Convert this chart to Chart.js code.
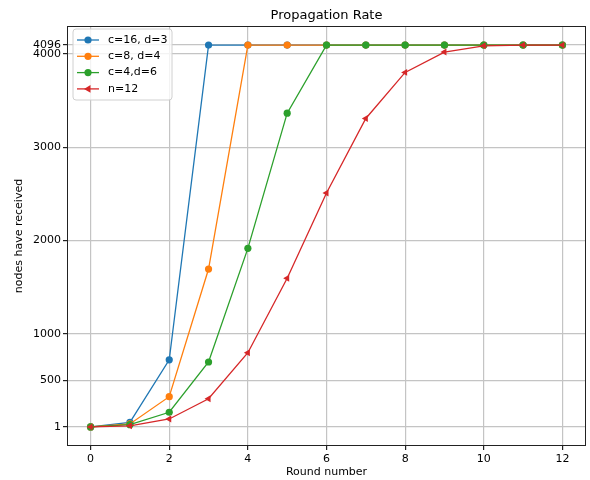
<!DOCTYPE html>
<html>
<head>
<meta charset="utf-8">
<script src="https://cdn.jsdelivr.net/npm/chart.js@4.4.1/dist/chart.umd.min.js"></script>
<style>
  html, body { margin: 0; padding: 0; background: #fff; }
  #wrap { width: 590px; height: 480px; }
</style>
</head>
<body>
<div id="wrap"><canvas id="chart" width="590" height="480"></canvas></div>
<script>
// ---- Data ----
const rounds   = [0, 1, 2, 3, 4, 5, 6, 7, 8, 9, 10, 11, 12];
const c16d3    = [1, 49, 721, 4096, 4096, 4096, 4096, 4096, 4096, 4096, 4096, 4096, 4096];
const c8d4     = [1, 33, 325, 1694, 4096, 4096, 4096, 4096, 4096, 4096, 4096, 4096, 4096];
const c4d6     = [1, 25, 158, 697, 1916, 3366, 4096, 4096, 4096, 4096, 4096, 4096, 4096];
const n12      = [1, 13, 86, 303, 797, 1595, 2509, 3309, 3803, 4021, 4088, 4096, 4096];
const labels   = ['c=16, d=3', 'c=8, d=4', 'c=4,d=6', 'n=12'];
const colors   = ['#1f77b4', '#ff7f0e', '#2ca02c', '#d62728'];
const xTicks   = [0, 2, 4, 6, 8, 10, 12];
const yTicks   = [1, 500, 1000, 2000, 3000, 4000, 4096];

const FONT = 'DejaVu Sans';

function toPoints(ys) {
  return rounds.map((r, i) => ({ x: r, y: ys[i] }));
}

function makeSet(i, ys, style) {
  return {
    label: labels[i],
    data: toPoints(ys),
    borderColor: colors[i],
    backgroundColor: colors[i],
    pointBackgroundColor: colors[i],
    pointBorderColor: colors[i],
    borderWidth: 1.3,
    pointRadius: style === 'triangle' ? 4 : 3.6,
    pointBorderWidth: 0,
    pointStyle: style,
    pointRotation: style === 'triangle' ? -90 : 0,
    tension: 0,
    order: 3 - i   // red drawn on top, like matplotlib
  };
}

// ---- Frame, title and matplotlib-like legend ----
const decor = {
  id: 'decor',
  afterDraw(chart) {
    const ctx = chart.ctx;
    const a = chart.chartArea;
    ctx.save();
    // spines
    ctx.strokeStyle = '#222';
    ctx.lineWidth = 1;
    ctx.strokeRect(a.left + 0.5, a.top + 0.5, a.right - a.left - 1, a.bottom - a.top - 1);

    // title
    ctx.fillStyle = '#000';
    ctx.font = '13px ' + FONT;
    ctx.textAlign = 'center';
    ctx.textBaseline = 'alphabetic';
    ctx.fillText('Propagation Rate', (a.left + a.right) / 2, 18.5);

    // legend box
    const bx = a.left + 6, by = a.top + 3, bw = 99, bh = 71, r = 3;
    ctx.beginPath();
    ctx.moveTo(bx + r, by);
    ctx.arcTo(bx + bw, by, bx + bw, by + bh, r);
    ctx.arcTo(bx + bw, by + bh, bx, by + bh, r);
    ctx.arcTo(bx, by + bh, bx, by, r);
    ctx.arcTo(bx, by, bx + bw, by, r);
    ctx.closePath();
    ctx.fillStyle = 'rgba(255,255,255,0.8)';
    ctx.fill();
    ctx.strokeStyle = '#d0d0d0';
    ctx.stroke();

    ctx.font = '11px ' + FONT;
    ctx.textAlign = 'left';
    ctx.textBaseline = 'middle';
    chart.data.datasets.forEach((ds, i) => {
      const y = by + 11 + i * 16.3;
      const x0 = bx + 4, x1 = bx + 26, xm = (x0 + x1) / 2;
      ctx.strokeStyle = ds.borderColor;
      ctx.lineWidth = 1.3;
      ctx.beginPath();
      ctx.moveTo(x0, y);
      ctx.lineTo(x1, y);
      ctx.stroke();
      ctx.fillStyle = ds.borderColor;
      ctx.beginPath();
      if (ds.pointStyle === 'triangle') {
        ctx.moveTo(xm - 4, y);
        ctx.lineTo(xm + 2.5, y - 3.8);
        ctx.lineTo(xm + 2.5, y + 3.8);
        ctx.closePath();
      } else {
        ctx.arc(xm, y, 3.6, 0, Math.PI * 2);
      }
      ctx.fill();
      ctx.fillStyle = '#000';
      ctx.fillText(ds.label, bx + 35, y);
    });
    ctx.restore();
  }
};

const bgPlugin = {
  id: 'bg',
  beforeDraw(chart) {
    const ctx = chart.ctx;
    ctx.save();
    ctx.fillStyle = '#fff';
    ctx.fillRect(0, 0, chart.width, chart.height);
    ctx.restore();
  }
};

new Chart(document.getElementById('chart'), {
  type: 'line',
  data: {
    datasets: [
      makeSet(0, c16d3, 'circle'),
      makeSet(1, c8d4, 'circle'),
      makeSet(2, c4d6, 'circle'),
      makeSet(3, n12, 'triangle')
    ]
  },
  options: {
    responsive: false,
    animation: false,
    layout: { padding: { top: 26, right: 3, left: 0, bottom: 0 } },
    plugins: {
      legend: { display: false },
      title: { display: false },
      tooltip: { enabled: false }
    },
    scales: {
      x: {
        type: 'linear',
        min: -0.6,
        max: 12.6,
        afterBuildTicks: s => { s.ticks = xTicks.map(v => ({ value: v })); },
        afterFit: s => { s.height = 34; },
        grid: { color: '#c4c4c4', lineWidth: 1.2, tickColor: '#222', tickLength: 4 },
        border: { display: false },
        ticks: { color: '#000', padding: 3, maxRotation: 0, font: { family: FONT, size: 11 } },
        title: {
          display: true, text: 'Round number', color: '#000',
          font: { family: FONT, size: 11 }, padding: { top: 0, bottom: 1.5 }
        }
      },
      y: {
        type: 'linear',
        min: -203.75,
        max: 4300.75,
        afterBuildTicks: s => { s.ticks = yTicks.map(v => ({ value: v })); },
        afterFit: s => { s.width = 67; },
        grid: { color: '#c4c4c4', lineWidth: 1.2, tickColor: '#222', tickLength: 4 },
        border: { display: false },
        ticks: { color: '#000', padding: 2, font: { family: FONT, size: 11 }, callback: v => String(v) },
        title: {
          display: true, text: 'nodes have received', color: '#000',
          font: { family: FONT, size: 11 }, padding: { top: 13, bottom: 0 }
        }
      }
    }
  },
  plugins: [bgPlugin, decor]
});
</script>
</body>
</html>
